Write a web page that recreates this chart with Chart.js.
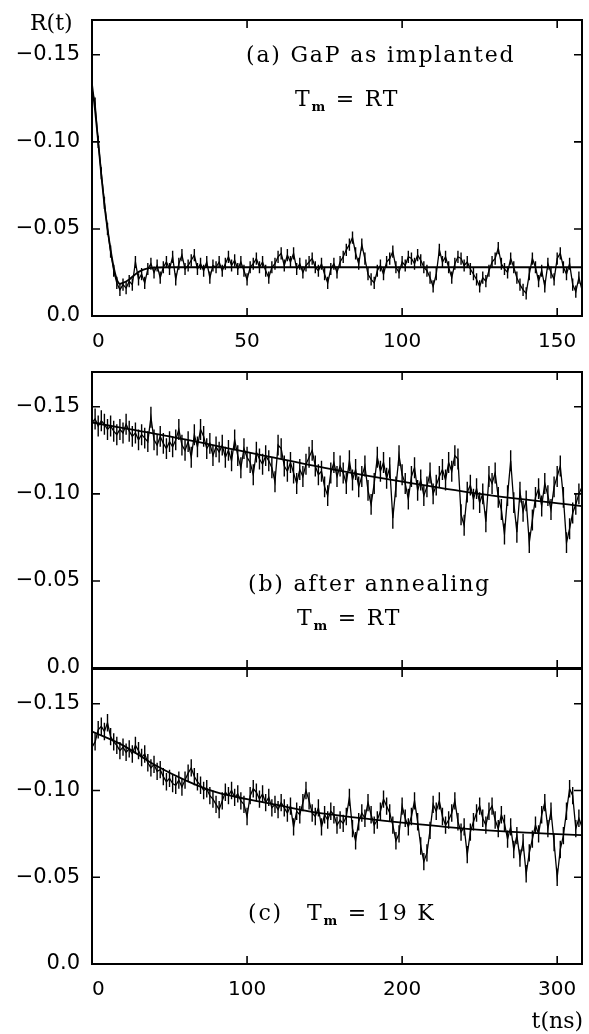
<!DOCTYPE html>
<html lang="en">
<head>
  <meta charset="UTF-8" />
  <title>R(t) – GaP</title>
  <script src="https://cdn.jsdelivr.net/npm/chart.js"></script>
  <style>
    html, body { margin: 0; padding: 0; background: #fff; }
    body { width: 589px; height: 1034px; position: relative; overflow: hidden; }
    canvas { position: absolute; left: 0; }
    #chartA { top: 0; }
    #chartB { top: 360px; }
    #chartC { top: 660px; }
  </style>
</head>
<body>
  <canvas id="chartA" width="589" height="360"></canvas>
  <canvas id="chartB" width="589" height="330"></canvas>
  <canvas id="chartC" width="589" height="374"></canvas>

  <script>
    // ---- data ----
    const yTicks = [-0.15, -0.10, -0.05, 0];
    const xTicksA = [0, 50, 100, 150];
    const xTicksBC = [0, 100, 200, 300];

    // (a) GaP as implanted, 1 ns per channel, t = 0..158
    const binA = 1;
    const rA = [
      -0.130, -0.122, -0.100, -0.082, -0.065, -0.050, -0.037, -0.026, -0.019, -0.015,
      -0.018, -0.016, -0.020, -0.018, -0.031, -0.021, -0.024, -0.019, -0.027, -0.030,
      -0.025, -0.029, -0.022, -0.028, -0.031, -0.027, -0.034, -0.021, -0.030, -0.035,
      -0.027, -0.029, -0.032, -0.035, -0.027, -0.030, -0.026, -0.031, -0.022, -0.029,
      -0.028, -0.031, -0.026, -0.030, -0.034, -0.029, -0.032, -0.027, -0.031, -0.026,
      -0.021, -0.028, -0.030, -0.033, -0.028, -0.031, -0.026, -0.022, -0.028, -0.030,
      -0.034, -0.036, -0.029, -0.035, -0.031, -0.036, -0.027, -0.030, -0.025, -0.029,
      -0.031, -0.033, -0.028, -0.026, -0.030, -0.024, -0.019, -0.027, -0.030, -0.025,
      -0.031, -0.034, -0.038, -0.041, -0.045, -0.036, -0.030, -0.041, -0.033, -0.024,
      -0.021, -0.019, -0.026, -0.029, -0.024, -0.031, -0.033, -0.037, -0.028, -0.025,
      -0.031, -0.029, -0.034, -0.033, -0.030, -0.035, -0.032, -0.028, -0.026, -0.022,
      -0.017, -0.024, -0.038, -0.031, -0.034, -0.028, -0.022, -0.030, -0.034, -0.033,
      -0.029, -0.031, -0.027, -0.024, -0.021, -0.017, -0.022, -0.020, -0.026, -0.031,
      -0.033, -0.039, -0.030, -0.027, -0.025, -0.033, -0.028, -0.022, -0.018, -0.015,
      -0.013, -0.024, -0.033, -0.028, -0.020, -0.026, -0.017, -0.030, -0.025, -0.021,
      -0.033, -0.036, -0.028, -0.024, -0.030, -0.018, -0.014, -0.022, -0.015
    ];
    const errA = 0.0035;
    const fitTA = [0, 1, 2, 3, 4, 5, 6, 7, 8, 9, 10, 12, 14, 16, 18, 20, 25, 40, 80, 120, 158];
    const fitA = [-0.133, -0.118, -0.100, -0.081, -0.064, -0.050, -0.038, -0.028, -0.021, -0.0185,
                  -0.019, -0.021, -0.024, -0.0262, -0.0273, -0.0278, -0.028, -0.028, -0.028, -0.028, -0.028];

    // (b) after annealing, T_m = RT, 2 ns per channel, t = 0..316
    const binBC = 2;
    const rB = [
      -0.141, -0.143, -0.139, -0.142, -0.140, -0.137, -0.139, -0.136, -0.134, -0.137,
      -0.135, -0.140, -0.136, -0.133, -0.135, -0.131, -0.134, -0.132, -0.130, -0.144,
      -0.131, -0.128, -0.133, -0.129, -0.126, -0.130, -0.127, -0.131, -0.137, -0.128,
      -0.125, -0.130, -0.121, -0.134, -0.127, -0.137, -0.133, -0.126, -0.129, -0.122,
      -0.127, -0.124, -0.128, -0.121, -0.125, -0.119, -0.131, -0.122, -0.115, -0.126,
      -0.121, -0.118, -0.111, -0.124, -0.120, -0.117, -0.122, -0.119, -0.115, -0.107,
      -0.128, -0.126, -0.116, -0.113, -0.118, -0.112, -0.106, -0.114, -0.110, -0.117,
      -0.121, -0.125, -0.116, -0.111, -0.113, -0.104, -0.099, -0.112, -0.118, -0.110,
      -0.116, -0.112, -0.106, -0.119, -0.108, -0.114, -0.104, -0.110, -0.116, -0.102,
      -0.094, -0.106, -0.121, -0.113, -0.118, -0.109, -0.115, -0.086, -0.104, -0.122,
      -0.111, -0.106, -0.097, -0.110, -0.115, -0.102, -0.108, -0.099, -0.104, -0.112,
      -0.100, -0.105, -0.110, -0.114, -0.108, -0.118, -0.113, -0.122, -0.120, -0.088,
      -0.082, -0.101, -0.105, -0.097, -0.103, -0.095, -0.100, -0.084, -0.110, -0.106,
      -0.112, -0.098, -0.091, -0.077, -0.099, -0.119, -0.095, -0.078, -0.101, -0.090,
      -0.096, -0.072, -0.085, -0.098, -0.103, -0.093, -0.106, -0.099, -0.091, -0.104,
      -0.110, -0.116, -0.098, -0.072, -0.080, -0.089, -0.094, -0.100, -0.104
    ];
    const errB = 0.006;
    const fitTB = [0, 50, 100, 150, 200, 250, 316];
    const fitB = [-0.141, -0.133, -0.124, -0.115, -0.107, -0.100, -0.093];

    // (c) T_m = 19 K, 2 ns per channel, t = 0..316
    const rC = [
      -0.125, -0.128, -0.135, -0.137, -0.134, -0.139, -0.131, -0.128, -0.126, -0.123,
      -0.125, -0.122, -0.124, -0.121, -0.126, -0.123, -0.119, -0.121, -0.116, -0.113,
      -0.115, -0.111, -0.112, -0.108, -0.105, -0.107, -0.104, -0.103, -0.106, -0.102,
      -0.106, -0.110, -0.113, -0.108, -0.105, -0.103, -0.100, -0.101, -0.097, -0.095,
      -0.092, -0.089, -0.094, -0.099, -0.097, -0.100, -0.096, -0.098, -0.094, -0.092,
      -0.085, -0.097, -0.101, -0.099, -0.095, -0.098, -0.093, -0.096, -0.090, -0.092,
      -0.089, -0.093, -0.090, -0.087, -0.091, -0.079, -0.088, -0.086, -0.093, -0.100,
      -0.094, -0.087, -0.085, -0.090, -0.079, -0.086, -0.083, -0.088, -0.086, -0.080,
      -0.083, -0.081, -0.085, -0.096, -0.078, -0.071, -0.082, -0.087, -0.084, -0.093,
      -0.086, -0.080, -0.083, -0.088, -0.095, -0.091, -0.087, -0.080, -0.071, -0.075,
      -0.091, -0.084, -0.079, -0.085, -0.094, -0.082, -0.068, -0.059, -0.064, -0.077,
      -0.092, -0.088, -0.094, -0.085, -0.080, -0.083, -0.087, -0.094, -0.082, -0.076,
      -0.079, -0.063, -0.076, -0.082, -0.087, -0.091, -0.084, -0.080, -0.088, -0.091,
      -0.083, -0.078, -0.086, -0.081, -0.072, -0.079, -0.066, -0.074, -0.061, -0.070,
      -0.052, -0.064, -0.072, -0.080, -0.075, -0.086, -0.093, -0.078, -0.088, -0.070,
      -0.050, -0.066, -0.074, -0.088, -0.101, -0.097, -0.078, -0.084, -0.079
    ];
    const errC = 0.005;
    const fitTC = [0, 20, 40, 60, 80, 100, 120, 140, 160, 200, 240, 280, 316];
    const fitC = [-0.134, -0.126, -0.115, -0.106, -0.099, -0.095, -0.0915, -0.088, -0.0855, -0.0815, -0.078, -0.0757, -0.0743];

    // ---- drawing ----
    const INK = '#000';
    const SERIF = '"DejaVu Serif", serif';
    const SANS = '"DejaVu Sans", sans-serif';

    // error bars for datasets that carry an `err`
    const errorBars = {
      id: 'errorBars',
      afterDatasetsDraw(chart) {
        const { ctx, chartArea: a, scales: { y } } = chart;
        ctx.save();
        ctx.beginPath();
        ctx.rect(a.left, a.top, a.right - a.left, a.bottom - a.top);
        ctx.clip();
        ctx.strokeStyle = INK;
        ctx.lineWidth = 1.4;
        ctx.beginPath();
        chart.data.datasets.forEach((ds, i) => {
          if (ds.err == null) return;
          chart.getDatasetMeta(i).data.forEach((pt, j) => {
            const v = ds.data[j].y;
            ctx.moveTo(pt.x, y.getPixelForValue(v - ds.err));
            ctx.lineTo(pt.x, y.getPixelForValue(v + ds.err));
          });
        });
        ctx.stroke();
        ctx.restore();
      }
    };

    // box round the plot with inward ticks on all four sides
    const frame = {
      id: 'frame',
      afterDatasetsDraw(chart) {
        const { ctx, chartArea: a, scales: { x, y } } = chart;
        const len = 8;
        ctx.save();
        ctx.strokeStyle = INK;
        ctx.lineWidth = 2;
        ctx.strokeRect(a.left, a.top, a.right - a.left, a.bottom - a.top);
        ctx.lineWidth = 1.6;
        ctx.beginPath();
        x.ticks.forEach(t => {
          const px = x.getPixelForValue(t.value);
          ctx.moveTo(px, a.top); ctx.lineTo(px, a.top + len);
          ctx.moveTo(px, a.bottom); ctx.lineTo(px, a.bottom - len);
        });
        y.ticks.forEach(t => {
          const py = y.getPixelForValue(t.value);
          ctx.moveTo(a.left, py); ctx.lineTo(a.left + len, py);
          ctx.moveTo(a.right, py); ctx.lineTo(a.right - len, py);
        });
        ctx.stroke();
        ctx.restore();
      }
    };

    // free text: labels inside the panels, axis names
    const notes = {
      id: 'notes',
      afterDraw(chart, args, opts) {
        const ctx = chart.ctx;
        (opts.items || []).forEach(it => {
          ctx.save();
          ctx.fillStyle = INK;
          ctx.textBaseline = 'alphabetic';
          ctx.textAlign = 'left';
          ctx.letterSpacing = (it.spacing || 0) + 'px';
          const fontOf = p => p.sub ? 'bold 13px ' + SERIF : '22px ' + SERIF;
          let w = 0;
          it.parts.forEach(p => { ctx.font = fontOf(p); w += ctx.measureText(p.t).width; });
          let x = it.align === 'right' ? it.x - w : it.x;
          it.parts.forEach(p => {
            ctx.font = fontOf(p);
            ctx.fillText(p.t, x, it.y + (p.sub ? 5 : 0));
            x += ctx.measureText(p.t).width;
          });
          ctx.restore();
        });
      }
    };

    const yLabel = v => v === 0 ? '0.0' : '\u2212' + Math.abs(v).toFixed(2);
    const xLabel = v => v === 0 ? '\u20070' : String(v);

    function panel(id, o) {
      return new Chart(document.getElementById(id), {
        type: 'line',
        data: {
          datasets: [
            {
              data: o.r.map((v, i) => ({ x: i * o.bin, y: v })),
              err: o.err,
              borderColor: INK, borderWidth: 1.3, pointRadius: 0, tension: 0
            },
            {
              data: o.fitT.map((t, i) => ({ x: t, y: o.fit[i] })),
              borderColor: INK, borderWidth: 1.8, pointRadius: 0,
              cubicInterpolationMode: 'monotone'
            }
          ]
        },
        options: {
          responsive: false,
          animation: false,
          events: [],
          layout: { padding: o.pad },
          plugins: { legend: { display: false }, tooltip: { enabled: false }, notes: { items: o.notes } },
          scales: {
            x: {
              type: 'linear', min: 0, max: o.xMax, bounds: 'data',
              afterBuildTicks: s => { s.ticks = o.xTicks.map(v => ({ value: v })); },
              afterFit: s => { s.height = o.xHeight; s.paddingLeft = 0; s.paddingRight = 0; },
              grid: { display: false, drawTicks: false },
              border: { display: false },
              ticks: { display: o.xLabels, padding: 14, color: INK, maxRotation: 0,
                       font: { family: SANS, size: 20 }, callback: xLabel }
            },
            y: {
              type: 'linear', reverse: true, min: -0.17, max: 0, bounds: 'data',
              afterBuildTicks: s => { s.ticks = yTicks.map(v => ({ value: v })); },
              afterFit: s => { s.width = 92; s.paddingTop = 0; s.paddingBottom = 0; },
              grid: { display: false, drawTicks: false },
              border: { display: false },
              ticks: { padding: 12, color: INK, font: { family: SANS, size: 21 }, callback: yLabel }
            }
          }
        },
        plugins: [errorBars, frame, notes]
      });
    }

    panel('chartA', {
      r: rA, bin: binA, err: errA, fitT: fitTA, fit: fitA,
      xMax: 158, xTicks: xTicksA, xLabels: true, xHeight: 44,
      pad: { top: 20, right: 7, bottom: 0, left: 0 },
      notes: [
        { x: 30, y: 30, parts: [{ t: 'R(t)' }] },
        { x: 246, y: 62, spacing: 1.8, parts: [{ t: '(a) GaP as implanted' }] },
        { x: 295, y: 106, spacing: 1.8, parts: [{ t: 'T' }, { t: 'm', sub: true }, { t: ' = RT' }] }
      ]
    });

    panel('chartB', {
      r: rB, bin: binBC, err: errB, fitT: fitTB, fit: fitB,
      xMax: 316, xTicks: xTicksBC, xLabels: false, xHeight: 0,
      pad: { top: 12, right: 7, bottom: 22, left: 0 },
      notes: [
        { x: 248, y: 231, spacing: 1.8, parts: [{ t: '(b) after annealing' }] },
        { x: 297, y: 265, spacing: 1.8, parts: [{ t: 'T' }, { t: 'm', sub: true }, { t: ' = RT' }] }
      ]
    });

    panel('chartC', {
      r: rC, bin: binBC, err: errC, fitT: fitTC, fit: fitC,
      xMax: 316, xTicks: xTicksBC, xLabels: true, xHeight: 70,
      pad: { top: 9, right: 7, bottom: 0, left: 0 },
      notes: [
        { x: 248, y: 260, spacing: 1.8, parts: [{ t: '(c)' }] },
        { x: 307, y: 260, spacing: 1.8, parts: [{ t: 'T' }, { t: 'm', sub: true }, { t: ' = 19 K' }] },
        { x: 583, y: 368, align: 'right', parts: [{ t: 't(ns)' }] }
      ]
    });
  </script>
</body>
</html>
